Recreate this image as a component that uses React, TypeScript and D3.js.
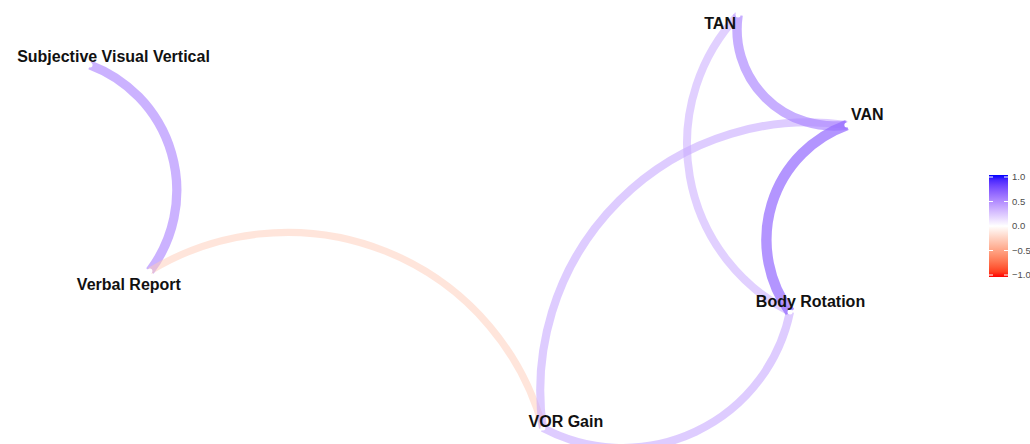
import { useRef, useEffect } from "react";
import * as d3 from "d3";

// node layout (multidimensional scaling coordinates)
const nodes = ["Subjective Visual Vertical", "Verbal Report", "VOR Gain", "Body Rotation", "VAN", "TAN"];
const nodeX = [-1.0, -0.842, 0.195, 0.847, 0.997, 0.71];
const nodeY = [0.758, -0.24, -1.0, -0.438, 0.467, 1.0];

// correlations between pairs of nodes
const edgeFrom = ["Verbal Report", "VOR Gain", "VAN", "VOR Gain", "TAN", "TAN", "VAN"];
const edgeTo = ["Subjective Visual Vertical", "Verbal Report", "VOR Gain", "Body Rotation", "VAN", "Body Rotation", "Body Rotation"];
const edgeR = [0.5, -0.28, 0.38, 0.38, 0.52, 0.36, 0.62];

const legendBreaks = [-1, -0.5, 0, 0.5, 1];

const width = 1030;
const height = 444;

// where each label sits relative to its node (text centre, baseline)
const labelOffset: Record<string, [number, number]> = {
  "Subjective Visual Vertical": [23.5, -3],
  "Verbal Report": [-21, 19],
  "VOR Gain": [23, -1],
  "Body Rotation": [20.5, -5],
  VAN: [20.5, -5],
  TAN: [-18, 14],
};

const App = () => {
  const svgRef = useRef<SVGSVGElement>(null);

  useEffect(() => {
    const svg = d3.select(svgRef.current);
    svg.selectAll("*").remove();

    const x = d3.scaleLinear().domain([-1, 1]).range([90, 848]);
    const y = d3.scaleLinear().domain([-1, 1]).range([428, 15]);

    const colour = d3
      .scaleLinear<string>()
      .domain([-1, 0, 1])
      .range(["#FF0000", "#FFFFFF", "#0000FF"])
      .interpolate(d3.interpolateLab);
    const alpha = d3.scaleLinear().domain([0, 1]).range([0.3, 1]);
    const size = d3.scaleLinear().domain([0, 1]).range([4.5, 14]);

    const pos = (name: string) => {
      const i = nodes.indexOf(name);
      return [x(nodeX[i]), y(nodeY[i])];
    };

    // circular arc bulging to the right of travel, sagitta = half chord * 0.5
    const arc = (a: number[], b: number[]) => {
      const half = Math.hypot(b[0] - a[0], b[1] - a[1]) / 2;
      const h = 0.5 * half;
      const r = (half * half + h * h) / (2 * h);
      return `M${a[0]},${a[1]}A${r},${r} 0 0 0 ${b[0]},${b[1]}`;
    };

    const edges = edgeR.map((r, i) => ({ from: edgeFrom[i], to: edgeTo[i], r }));

    svg
      .append("g")
      .selectAll("path")
      .data(edges)
      .join("path")
      .attr("d", (d) => arc(pos(d.from), pos(d.to)))
      .attr("fill", "none")
      .attr("stroke", (d) => colour(d.r))
      .attr("stroke-opacity", (d) => alpha(Math.abs(d.r)))
      .attr("stroke-width", (d) => size(Math.abs(d.r)));

    svg
      .append("g")
      .selectAll("circle")
      .data(nodes)
      .join("circle")
      .attr("cx", (d) => pos(d)[0])
      .attr("cy", (d) => pos(d)[1])
      .attr("r", 2.5)
      .attr("fill", "white");

    svg
      .append("g")
      .selectAll("text")
      .data(nodes)
      .join("text")
      .attr("x", (d) => pos(d)[0] + labelOffset[d][0])
      .attr("y", (d) => pos(d)[1] + labelOffset[d][1])
      .attr("text-anchor", "middle")
      .attr("font-family", "Liberation Sans, Arial, sans-serif")
      .attr("font-weight", "bold")
      .attr("font-size", 16)
      .attr("fill", "#111")
      .text((d) => d);

    // colour bar legend
    const ly = d3.scaleLinear().domain([-1, 1]).range([275, 177]);
    const barX = 989;
    const barW = 19;
    const defs = svg.append("defs");
    const grad = defs
      .append("linearGradient")
      .attr("id", "corr-grad")
      .attr("x1", 0)
      .attr("y1", 1)
      .attr("x2", 0)
      .attr("y2", 0);
    grad
      .selectAll("stop")
      .data(d3.range(0, 21))
      .join("stop")
      .attr("offset", (d) => d / 20)
      .attr("stop-color", (d) => colour(-1 + d / 10));

    const legend = svg.append("g");
    legend
      .append("rect")
      .attr("x", barX)
      .attr("y", ly(1) - 2)
      .attr("width", barW)
      .attr("height", ly(-1) - ly(1) + 4)
      .attr("fill", "url(#corr-grad)");

    legend
      .selectAll("line.tl")
      .data(legendBreaks)
      .join("line")
      .attr("class", "tl")
      .attr("x1", barX)
      .attr("x2", barX + 4)
      .attr("y1", (d) => ly(d))
      .attr("y2", (d) => ly(d))
      .attr("stroke", "white");
    legend
      .selectAll("line.tr")
      .data(legendBreaks)
      .join("line")
      .attr("class", "tr")
      .attr("x1", barX + barW - 4)
      .attr("x2", barX + barW)
      .attr("y1", (d) => ly(d))
      .attr("y2", (d) => ly(d))
      .attr("stroke", "white");

    legend
      .selectAll("text")
      .data(legendBreaks)
      .join("text")
      .attr("x", barX + barW + 4)
      .attr("y", (d) => ly(d))
      .attr("dy", "0.35em")
      .attr("font-family", "Liberation Sans, Arial, sans-serif")
      .attr("font-size", 9.5)
      .attr("fill", "#4d4d4d")
      .text((d) => d3.format(".1f")(d));
  }, []);

  return (
    <svg
      ref={svgRef}
      width={width}
      height={height}
      style={{ position: "absolute", left: 0, top: 0, background: "white" }}
    />
  );
};

export default App;
